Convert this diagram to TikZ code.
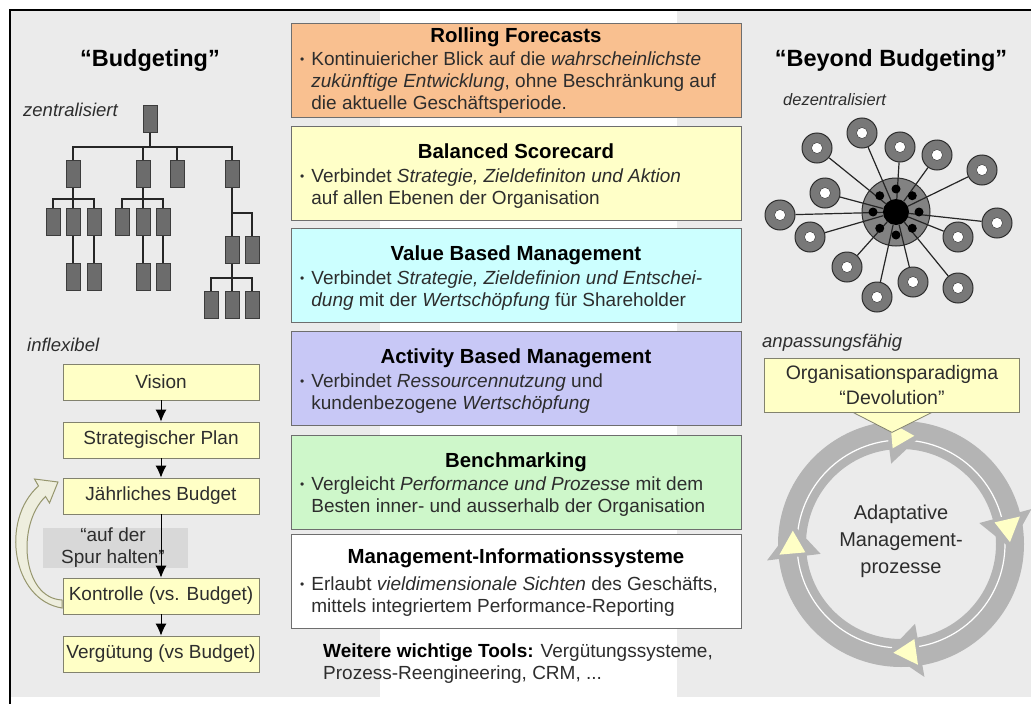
\documentclass[tikz,border=0pt]{standalone}
\usepackage{fontspec}
\setmainfont{Liberation Sans}
\usetikzlibrary{arrows.meta}

\definecolor{panelgray}{RGB}{235,235,235}
\definecolor{hilite}{RGB}{216,216,216}
\definecolor{textgray}{RGB}{45,45,45}
\definecolor{boxline}{RGB}{110,110,110}
\definecolor{rfcol}{RGB}{249,192,144}
\definecolor{bscol}{RGB}{255,255,200}
\definecolor{vbcol}{RGB}{204,255,255}
\definecolor{abcol}{RGB}{200,200,246}
\definecolor{bmcol}{RGB}{206,247,202}
\definecolor{flowfill}{RGB}{255,255,198}
\definecolor{flowline}{RGB}{130,130,110}
\definecolor{orggray}{RGB}{108,108,108}
\definecolor{orgline}{RGB}{60,60,60}
\definecolor{hubgray}{RGB}{130,130,130}
\definecolor{donutgray}{RGB}{120,120,120}
\definecolor{hubline}{RGB}{45,45,45}
\definecolor{ringgray}{RGB}{180,180,180}
\definecolor{loopfill}{RGB}{238,238,222}
\definecolor{loopline}{RGB}{150,150,110}

\newcommand{\toolbodyfont}{\fontsize{19}{22}\selectfont}
\newcommand{\toolheadfont}{\fontsize{20.4}{24}\selectfont\bfseries}
\newcommand{\bigtitlefont}{\fontsize{23.5}{28}\selectfont\bfseries}
\newcommand{\sidefont}{\fontsize{18.5}{22}\selectfont\itshape}
\newcommand{\cyclefont}{\fontsize{20}{27}\selectfont}
\newcommand{\tbul}{\raisebox{1.5pt}{\fontsize{12}{12}\selectfont\textbullet}}
\newcommand{\itemlines}[1]{\begin{tabular}[t]{@{}l@{\hspace{7pt}}l@{}}#1\end{tabular}}

\begin{document}
\begin{tikzpicture}[x=1pt,y=-1pt,font=\toolbodyfont,text=textgray]
  \tikzset{
    toolbox/.style={draw=boxline, line width=1pt, minimum width=450, minimum height=94, inner sep=0pt},
    toolhead/.style={anchor=base, font=\toolheadfont, text=black},
    tooltext/.style={anchor=base west, inner sep=0pt},
    flowbox/.style={draw=flowline, fill=flowfill, line width=0.8pt, minimum width=196, minimum height=36, inner sep=0pt},
    flowarrow/.style={-{Latex[length=12pt,width=11pt]}, line width=1pt, black},
    orgbox/.style={draw=orgline, fill=orggray, line width=0.8pt, minimum width=14, minimum height=27, inner sep=0pt},
    orgedge/.style={line width=1.2pt, black!85},
    donut/.style={circle, draw=hubline, fill=donutgray, line width=1pt, minimum size=30, inner sep=0pt},
    spoke/.style={line width=1.2pt, black!85},
    side label/.style={anchor=west, font=\sidefont, inner sep=0pt}
  }
  \useasboundingbox (0,0) rectangle (1031,704);
  \fill[panelgray] (10,10) rectangle (1031,697);
  \fill[white] (380,11) rectangle (677,697);
  \draw[line width=2pt] (10,704) -- (10,10) -- (1031,10);

  % Budgeting
  \node[font=\bigtitlefont, text=black] (budg) at (150,60) {“Budgeting”};
  \node[side label] (zentral) at (23,110) {zentralisiert};
  \node[orgbox] (r) at (150,119) {};
  \foreach \n/\x in {a/73,b/143,c/177,d/232}
    \node[orgbox] (\n) at (\x,174) {};
  \foreach \n/\x in {a1/53,a2/73,a3/94,b1/122,b2/143,b3/163}
    \node[orgbox] (\n) at (\x,222) {};
  \foreach \n/\x in {a4/73,a5/94,b4/143,b5/163}
    \node[orgbox] (\n) at (\x,277) {};
  \node[orgbox] (d1) at (232,250) {};
  \node[orgbox] (d2) at (252,250) {};
  \foreach \n/\x in {e1/211,e2/232,e3/252}
    \node[orgbox] (\n) at (\x,305) {};
  \foreach \n in {a,b,c,d}
    \draw[orgedge] (r.south) -- ++(0,14) -| (\n.north);
  \foreach \n in {a1,a2,a3}
    \draw[orgedge] (a.south) -- ++(0,11) -| (\n.north);
  \foreach \n in {b1,b2,b3}
    \draw[orgedge] (b.south) -- ++(0,11) -| (\n.north);
  \foreach \n/\m in {a2/a4,a3/a5,b2/b4,b3/b5}
    \draw[orgedge] (\n) -- (\m);
  \foreach \n in {d1,d2}
    \draw[orgedge] (d.south) -- ++(0,25) -| (\n.north);
  \foreach \n in {e1,e2,e3}
    \draw[orgedge] (d1.south) -- ++(0,14) -| (\n.north);

  \node[side label] (inflex) at (27,345) {inflexibel};
  \fill[hilite] (43,528) rectangle (188,568);
  \node[align=center] (spur) at (113,548) {“auf der\\Spur halten”};
  \node[flowbox] (vision) at (161,382) {Vision};
  \node[flowbox] (plan) at (161,440) {Strategischer Plan};
  \node[flowbox] (budget) at (161,496) {Jährliches Budget};
  \node[flowbox] (kontrolle) at (161,596) {Kontrolle (vs. Budget)};
  \node[flowbox] (verg) at (161,654) {Vergütung (vs Budget)};
  \draw[flowarrow] (vision) -- (plan);
  \draw[flowarrow] (plan) -- (budget);
  \draw[flowarrow] (budget) -- (kontrolle);
  \draw[flowarrow] (kontrolle) -- (verg);
  \filldraw[fill=loopfill, draw=loopline, line width=1pt]
    (62,608) .. controls (12,600) and (0,520) .. (38.5,486)
    -- (34.5,479) -- (58,482) -- (49.5,503) -- (45.5,496.5)
    .. controls (16,525) and (22,598) .. (62,600) -- cycle;

  % Tools
  \node[toolbox, fill=rfcol] (rf) at (516,70) {};
  \node[toolhead] (rf-t) at (516,42) {Rolling Forecasts};
  \node[tooltext] (rf-x) at (300,65) {\itemlines{\tbul & Kontinuiericher Blick auf die \textit{wahrscheinlichste}\\
    & \textit{zukünftige Entwicklung}, ohne Beschränkung auf\\ & die aktuelle Geschäftsperiode.}};
  \node[toolbox, fill=bscol] (bs) at (516,173) {};
  \node[toolhead] (bs-t) at (516,158) {Balanced Scorecard};
  \node[tooltext] (bs-x) at (300,182) {\itemlines{\tbul & Verbindet \textit{Strategie, Zieldefiniton und Aktion}\\
    & auf allen Ebenen der Organisation}};
  \node[toolbox, fill=vbcol] (vbm) at (516,275) {};
  \node[toolhead] (vbm-t) at (516,260) {Value Based Management};
  \node[tooltext] (vbm-x) at (300,284) {\itemlines{\tbul & Verbindet \textit{Strategie, Zieldefinion und Entschei-}\\
    & \textit{dung} mit der \textit{Wertschöpfung} für Shareholder}};
  \node[toolbox, fill=abcol] (abm) at (516,378) {};
  \node[toolhead] (abm-t) at (516,363) {Activity Based Management};
  \node[tooltext] (abm-x) at (300,387) {\itemlines{\tbul & Verbindet \textit{Ressourcennutzung} und\\
    & kundenbezogene \textit{Wertschöpfung}}};
  \node[toolbox, fill=bmcol] (bm) at (516,482) {};
  \node[toolhead] (bm-t) at (516,467) {Benchmarking};
  \node[tooltext] (bm-x) at (300,490) {\itemlines{\tbul & Vergleicht \textit{Performance und Prozesse} mit dem\\
    & Besten inner- und ausserhalb der Organisation}};
  \node[toolbox, fill=white] (mis) at (516,581) {};
  \node[toolhead] (mis-t) at (516,563) {Management-Informationssysteme};
  \node[tooltext] (mis-x) at (300,590) {\itemlines{\tbul & Erlaubt \textit{vieldimensionale Sichten} des Geschäfts,\\
    & mittels integriertem Performance-Reporting}};
  \node[tooltext] (more) at (323,657) {\itemlines{\textbf{\color{black}Weitere wichtige Tools:} Vergütungssysteme,\\
    Prozess-Reengineering, CRM, ...}};

  % Beyond Budgeting
  \node[font=\bigtitlefont, text=black] (beyond) at (891,60) {“Beyond Budgeting”};
  \node[side label, font=\fontsize{16.5}{18}\selectfont\itshape] (dezentral) at (783,100) {dezentralisiert};
  \filldraw[fill=hubgray, draw=hubline, line width=1pt] (896,212) circle (34);
  \node[circle, fill=black, minimum size=26, inner sep=0pt] (hub) at (896,212) {};
  \foreach \n/\x/\y in {s1/817/148,s2/862/133,s3/900/147,s4/937/155,s5/982/170,s6/825/193,s7/780/215,
      s8/997/223,s9/810/237,s10/958/237,s11/847/267,s12/913/282,s13/958/288,s14/877/297}{
    \node[donut] (\n) at (\x,\y) {};
    \filldraw[fill=white, draw=hubline] (\n.center) circle (5.5);
    \draw[spoke] (hub) -- (\n);
  }
  \foreach \a in {0,45,...,315}
    \fill[black] (hub.center) ++(\a:23) circle (4.5);

  \node[side label] (anpass) at (762,343) {anpassungsfähig};
  \begin{scope}[shift={(901,544)}]
    \draw[ringgray, line width=28pt] (0,0) circle (109);
    \draw[white, line width=1.2pt] (0,0) circle (104);
    \foreach \a in {-97,-15,80,-187}{
      \fill[ringgray] (\a:81) -- (\a:135) -- (\a+17:109) -- cycle;
      \fill[flowfill] (\a+2:96) -- (\a+2:122) -- (\a+14:109) -- cycle;
    }
  \end{scope}
  \node[align=center, font=\cyclefont] (adapt) at (901,541) {Adaptative\\Management-\\prozesse};
  \node[flowbox, minimum width=255, minimum height=54, align=center,
    font=\fontsize{19.5}{25}\selectfont] (devo) at (892,385) {Organisationsparadigma\\“Devolution”};
  \filldraw[fill=flowfill, draw=flowline, line width=0.8pt] ([xshift=-39pt]devo.south)
    -- ([xshift=40pt]devo.south) -- ([yshift=-20pt]devo.south) -- cycle;
\end{tikzpicture}
\end{document}
